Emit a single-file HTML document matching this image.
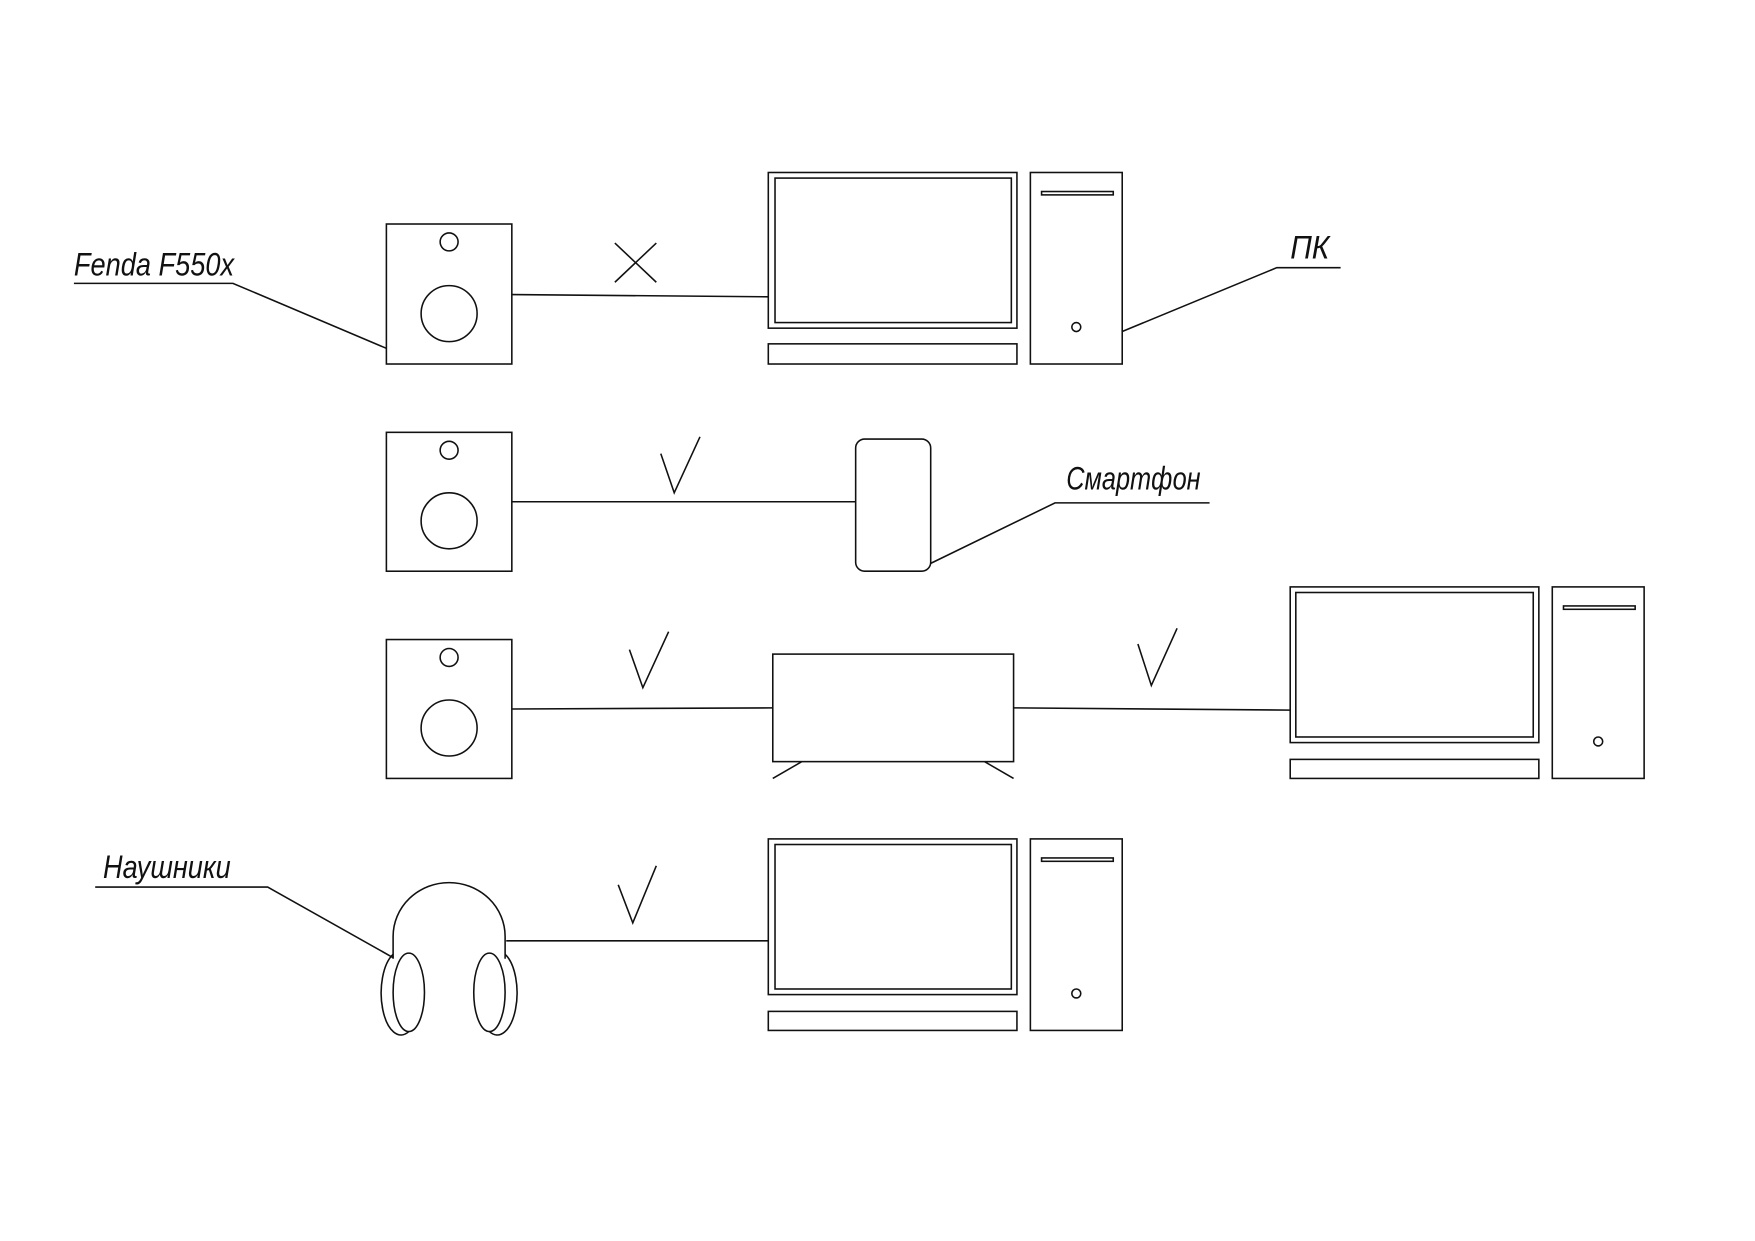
<!DOCTYPE html>
<html><head><meta charset="utf-8"><style>html,body{margin:0;padding:0;background:#fff}svg{display:block}</style></head>
<body>
<svg width="1755" height="1241" viewBox="0 0 1567 1108" preserveAspectRatio="none" xmlns="http://www.w3.org/2000/svg">
<g fill="none" stroke="#111" stroke-width="1.4">
<!-- Row 1 -->
<rect x="345" y="200" width="112" height="125"/>
<circle cx="401" cy="216" r="8"/><circle cx="401" cy="280" r="25"/>
<line x1="457" y1="263" x2="686" y2="265"/>
<line x1="549" y1="217" x2="586" y2="252"/><line x1="586" y1="217" x2="549" y2="252"/>
<rect x="686" y="154" width="222" height="139"/><rect x="692" y="159" width="211" height="129"/>
<rect x="686" y="307" width="222" height="18"/>
<rect x="920" y="154" width="82" height="171"/><rect x="930" y="171" width="64" height="3"/>
<circle cx="961" cy="292" r="4"/>
<polyline points="345,311 208,253 66,253"/>
<polyline points="1002,296 1140,239 1197,239"/>
<!-- Row 2 -->
<rect x="345" y="386" width="112" height="124"/>
<circle cx="401" cy="402" r="8"/><circle cx="401" cy="465" r="25"/>
<line x1="457" y1="448" x2="764" y2="448"/>
<polyline points="590,405 602,440 625,390"/>
<rect x="764" y="392" width="67" height="118" rx="8"/>
<polyline points="831,503 942,449 1080,449"/>
<!-- Row 3 -->
<rect x="345" y="571" width="112" height="124"/>
<circle cx="401" cy="587" r="8"/><circle cx="401" cy="650" r="25"/>
<line x1="457" y1="633" x2="690" y2="632"/>
<polyline points="562,580 574,614 597,564"/>
<rect x="690" y="584" width="215" height="96"/>
<line x1="690" y1="695" x2="716" y2="680"/><line x1="905" y1="695" x2="879" y2="680"/>
<line x1="905" y1="632" x2="1152" y2="634"/>
<polyline points="1016,575 1028,612 1051,561"/>
<rect x="1152" y="524" width="222" height="139"/><rect x="1157" y="529" width="212" height="129"/>
<rect x="1152" y="678" width="222" height="17"/>
<rect x="1386" y="524" width="82" height="171"/><rect x="1396" y="541" width="64" height="3"/>
<circle cx="1427" cy="662" r="4"/>
<!-- Row 4 -->
<rect x="686" y="749" width="222" height="139"/><rect x="692" y="754" width="211" height="129"/>
<rect x="686" y="903" width="222" height="17"/>
<rect x="920" y="749" width="82" height="171"/><rect x="930" y="766" width="64" height="3"/>
<circle cx="961" cy="887" r="4"/>
<line x1="452" y1="840" x2="686" y2="840"/>
<polyline points="552,790 565,824 586,773"/>
<path d="M351,856 V836 A50,48 0 0 1 451,836 V856"/>
<ellipse cx="365" cy="886" rx="14" ry="35"/>
<path d="M351,852 A16,34 0 0 0 365,921"/>
<ellipse cx="437" cy="886" rx="14" ry="35"/>
<path d="M451,852 A16,34 0 0 1 437,921"/>
<polyline points="351,855 239,792 85,792"/>
</g>
<g font-family="'Liberation Sans Narrow','Liberation Sans',sans-serif" font-style="italic" font-size="29" fill="#111">
<text x="66" y="246" textLength="143" lengthAdjust="spacingAndGlyphs">Fenda F550x</text>
<text x="1152" y="231" textLength="35" lengthAdjust="spacingAndGlyphs">ПК</text>
<text x="952" y="437" textLength="120" lengthAdjust="spacingAndGlyphs">Смартфон</text>
<text x="92" y="784" textLength="114" lengthAdjust="spacingAndGlyphs">Наушники</text>
</g>
</svg>
</body></html>
